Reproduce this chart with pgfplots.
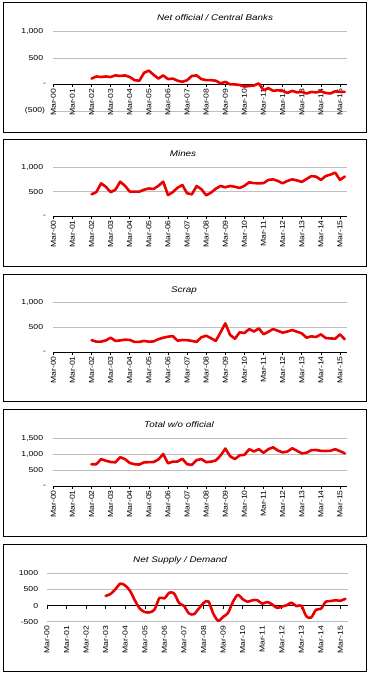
\documentclass[border=0pt]{standalone}
\usepackage{fontspec}
\setmainfont{Liberation Sans}[FakeStretch=1.2]
\usepackage{pgfplots}
\pgfplotsset{compat=1.18}
\definecolor{linered}{RGB}{235,0,0}
\definecolor{gridgray}{RGB}{190,190,190}
\pgfplotsset{
 panel/.style={
  scale only axis, anchor=south west,
  xmin=0, xmax=61.4, width=293.4pt,
  axis x line=middle, axis y line=left,
  y axis line style={draw=none},
  x axis line style={-, black, line width=0.8pt},
  hide obscured x ticks=false, hide obscured y ticks=false,
  xtick={0,4,...,60},
  xticklabels={Mar-00,Mar-01,Mar-02,Mar-03,Mar-04,Mar-05,Mar-06,Mar-07,Mar-08,Mar-09,Mar-10,Mar-11,Mar-12,Mar-13,Mar-14,Mar-15},
  tick align=outside,
  major tick length=3pt,
  xtick style={black, line width=0.6pt},
  ytick style={draw=none},
  ymajorgrids, grid style={gridgray, line width=0.6pt},
  tick label style={font=\fontsize{7.2}{8.5}\selectfont},
  xticklabel style={rotate=90, anchor=east, inner sep=1pt},
  yticklabel style={anchor=east, inner sep=0pt, xshift=-4pt},
 },
 redline/.style={linered, line width=2.6pt, line join=round, line cap=round, mark=none}
}
\begin{document}
\begin{tikzpicture}
\useasboundingbox (0,0) rectangle (372pt,-676pt);
% frames
\foreach \t/\b in {2.7/132, 139.7/266.7, 274/401.7, 409/536.7, 544/671.7}{
  \draw[black, line width=0.8pt] (3.3pt,-\t pt) rectangle (366pt,-\b pt);
}
% titles
\begin{scope}[every node/.style={font=\fontsize{8.2}{10}\selectfont\itshape}]
\node at (215pt,-17.5pt) {Net official / Central Banks};
\node at (183pt,-154pt) {Mines};
\node at (184pt,-290pt) {Scrap};
\node at (179pt,-425pt) {Total w/o official};
\node at (180pt,-560pt) {Net Supply / Demand};
\end{scope}

% Panel 1
\begin{axis}[panel, at={(53.3pt,-111pt)}, height=79.7pt,
  ymin=-500, ymax=1000, ytick={-500,0,500,1000},
  yticklabels={(500)\kern1pt,-,500\kern3pt,{1,000\kern3pt}}]
\addplot[redline] coordinates {
(8,110)(9,150)(10,140)(11,150)(12,140)(13,170)(14,160)(15,170)(16,140)(17,80)
(18,70)(19,220)(20,260)(21,180)(22,110)(23,170)(24,100)(25,110)(26,70)(27,50)
(28,80)(29,160)(30,170)(31,100)(32,80)(33,80)(34,70)(35,20)(36,50)(37,0)
(38,0)(39,-10)(40,-40)(41,-30)(42,-20)(43,20)(44,-110)(45,-70)(46,-120)(47,-110)
(48,-120)(49,-160)(50,-120)(51,-150)(52,-140)(53,-170)(54,-140)(55,-150)(56,-130)(57,-160)
(58,-170)(59,-130)(60,-140)(61,-140)};
\end{axis}

% Panel 2
\begin{axis}[panel, at={(53.3pt,-216pt)}, height=48.7pt,
  ymin=0, ymax=1000, ytick={0,500,1000},
  yticklabels={-,500\kern3pt,{1,000\kern3pt}}]
\addplot[redline] coordinates {
(8,445)(9,490)(10,670)(11,600)(12,490)(13,540)(14,705)(15,620)(16,500)(17,500)
(18,500)(19,540)(20,565)(21,555)(22,620)(23,705)(24,430)(25,490)(26,580)(27,637)
(28,466)(29,445)(30,616)(31,550)(32,425)(33,480)(34,560)(35,616)(36,590)(37,616)
(38,600)(39,575)(40,620)(41,692)(42,675)(43,671)(44,675)(45,740)(46,753)(47,720)
(48,671)(49,720)(50,753)(51,730)(52,700)(53,760)(54,820)(55,808)(56,740)(57,820)
(58,850)(59,890)(60,740)(61,810)};
\end{axis}

% Panel 3
\begin{axis}[panel, at={(53.3pt,-352pt)}, height=49.3pt,
  ymin=0, ymax=1000, ytick={0,500,1000},
  yticklabels={-,500\kern3pt,{1,000\kern3pt}}]
\addplot[redline] coordinates {
(8,240)(9,210)(10,210)(11,235)(12,290)(13,225)(14,235)(15,250)(16,245)(17,205)
(18,205)(19,225)(20,210)(21,215)(22,260)(23,290)(24,310)(25,324)(26,230)(27,243)
(28,240)(29,225)(30,205)(31,300)(32,330)(33,280)(34,225)(35,400)(36,581)(37,345)
(38,270)(39,400)(40,385)(41,466)(42,415)(43,480)(44,360)(45,410)(46,466)(47,430)
(48,392)(49,415)(50,446)(51,410)(52,378)(53,290)(54,318)(55,304)(56,358)(57,284)
(58,275)(59,270)(60,358)(61,257)};
\end{axis}

% Panel 4
\begin{axis}[panel, at={(53.3pt,-486pt)}, height=48pt,
  ymin=0, ymax=1500, ytick={0,500,1000,1500},
  yticklabels={-,500\kern3pt,{1,000\kern3pt},{1,500\kern3pt}}]
\addplot[redline] coordinates {
(8,680)(9,680)(10,840)(11,790)(12,750)(13,740)(14,900)(15,840)(16,720)(17,680)
(18,670)(19,740)(20,745)(21,750)(22,830)(23,1000)(24,710)(25,760)(26,765)(27,850)
(28,680)(29,660)(30,810)(31,840)(32,745)(33,760)(34,800)(35,950)(36,1170)(37,930)
(38,840)(39,960)(40,975)(41,1150)(42,1080)(43,1150)(44,1040)(45,1150)(46,1210)(47,1110)
(48,1050)(49,1080)(50,1180)(51,1100)(52,1020)(53,1040)(54,1120)(55,1125)(56,1100)(57,1095)
(58,1100)(59,1150)(60,1090)(61,1020)};
\end{axis}

% Panel 5
\begin{axis}[panel, at={(47pt,-621.7pt)}, height=48.4pt, width=301.3pt, xmax=61.6,
  ymin=-500, ymax=1000, ytick={-500,0,500,1000},
  yticklabels={-500,0,500,1000},
  yticklabel style={xshift=-1.7pt},
  xticklabel style={xshift=-16.4pt}]
\addplot[redline, smooth, tension=0.5] coordinates {
(12,300)(13,360)(14,510)(15,680)(16,620)(17,450)(18,150)(19,-100)(20,-200)(21,-210)
(22,-120)(23,240)(24,220)(25,400)(26,370)(27,80)(28,-10)(29,-240)(30,-270)(31,-100)
(32,80)(33,130)(34,-250)(35,-470)(36,-350)(37,-230)(38,110)(39,330)(40,200)(41,120)
(42,165)(43,165)(44,60)(45,110)(46,40)(47,-70)(48,-30)(49,10)(50,90)(51,-20)
(52,0)(53,-330)(54,-370)(55,-130)(56,-100)(57,120)(58,140)(59,165)(60,150)(61,210)};
\end{axis}
\end{tikzpicture}
\end{document}
